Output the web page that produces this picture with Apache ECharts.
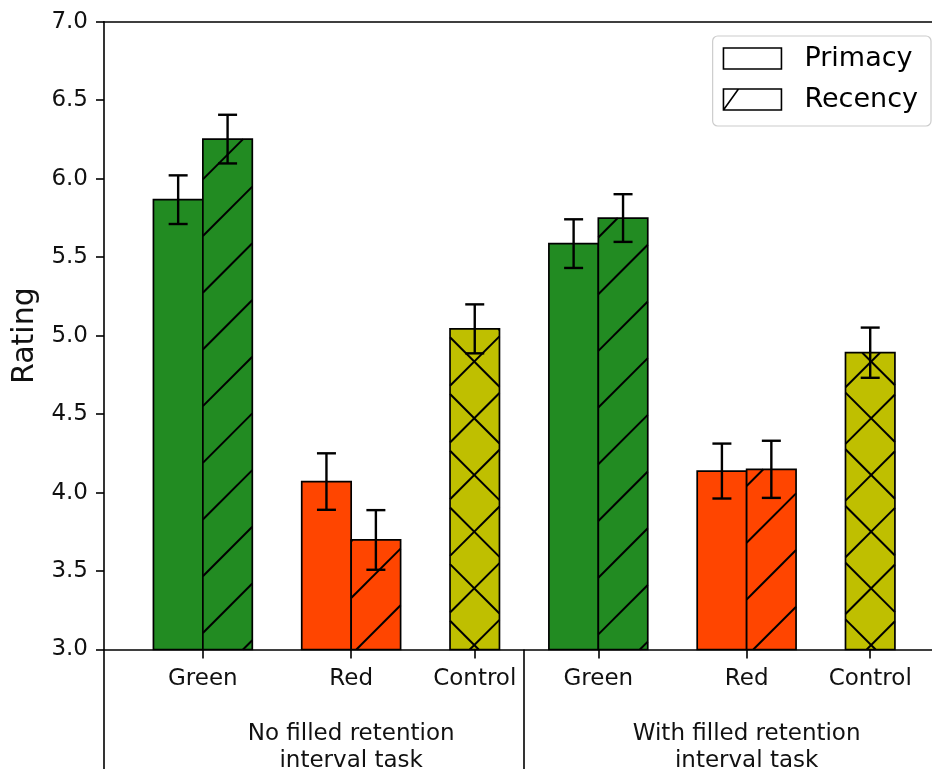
<!DOCTYPE html>
<html>
<head>
<meta charset="utf-8">
<script src="https://cdn.jsdelivr.net/npm/echarts@6/dist/echarts.min.js"></script>
<style>
  html, body { margin: 0; padding: 0; background: #fff; }
  #chart { width: 932px; height: 769px; }
</style>
</head>
<body>
<div id="chart"></div>
<script>
// ---------------- data ----------------
const colorCategories = ['Green', 'Red', 'Control'];
const conditionLabels = ['No filled retention\ninterval task', 'With filled retention\ninterval task'];
const seriesNames = ['Primacy', 'Recency'];

// one value per condition (No filled, With filled)
const greenPrimacy = [5.866, 5.586];
const greenRecency = [6.252, 5.749];
const redPrimacy = [4.070, 4.137];
const redRecency = [3.698, 4.148];
const controlMean = [5.043, 4.891];

const greenPrimacyErr = [0.155, 0.155];
const greenRecencyErr = [0.155, 0.152];
const redPrimacyErr = [0.180, 0.175];
const redRecencyErr = [0.190, 0.182];
const controlErr = [0.156, 0.160];

const yTicks = [3.0, 3.5, 4.0, 4.5, 5.0, 5.5, 6.0, 6.5, 7.0];

// ---------------- layout (x in bar-width units) ----------------
const BAR_W = 1;
const CONDITION_START = [0, 8];
const CATEGORY_OFFSET = [0, 3, 5.5];
const SEPARATORS = [-2, 6.5];
const X_MIN = -2, X_MAX = 14.75;
const Y_MIN = yTicks[0], Y_MAX = yTicks[yTicks.length - 1];

const COLORS = ['#228B22', '#FF4500', '#BFBF00'];
const FONT = 'DejaVu Sans';
const HATCH_P = 56.7;
const HATCH_C1 = 42;   // phase of '/' lines (x + y = c)
const HATCH_C2 = 0.7;  // phase of '\' lines (y - x = d)

// category tick positions and names
const tickPos = [], tickNames = [];
CONDITION_START.forEach(function (s) {
  CATEGORY_OFFSET.forEach(function (o, i) { tickPos.push(s + o); tickNames.push(colorCategories[i]); });
});
const groupPos = CONDITION_START.map(function (s) { return s + CATEGORY_OFFSET[1]; });

// build bar data: [x, value, err, colorIndex]
const primacyData = [], recencyData = [], controlData = [];
for (let c = 0; c < 2; c++) {
  const s = CONDITION_START[c];
  primacyData.push([s + CATEGORY_OFFSET[0] - BAR_W / 2, greenPrimacy[c], greenPrimacyErr[c], 0]);
  primacyData.push([s + CATEGORY_OFFSET[1] - BAR_W / 2, redPrimacy[c], redPrimacyErr[c], 1]);
  recencyData.push([s + CATEGORY_OFFSET[0] + BAR_W / 2, greenRecency[c], greenRecencyErr[c], 0]);
  recencyData.push([s + CATEGORY_OFFSET[1] + BAR_W / 2, redRecency[c], redRecencyErr[c], 1]);
  controlData.push([s + CATEGORY_OFFSET[2], controlMean[c], controlErr[c], 2]);
}
const errorData = primacyData.concat(recencyData, controlData);

function hatchLines(r, fwd, back) {
  const out = [];
  const x0 = r.x, x1 = r.x + r.width, y0 = r.y, y1 = r.y + r.height;
  const st = { stroke: '#000', lineWidth: 2 };
  if (fwd) {
    let c = HATCH_C1 + Math.ceil((x0 + y0 - HATCH_C1) / HATCH_P) * HATCH_P;
    for (; c <= x1 + y1; c += HATCH_P) {
      const xa = Math.max(x0, c - y1), xb = Math.min(x1, c - y0);
      if (xb > xa) out.push({ type: 'line', shape: { x1: xa, y1: c - xa, x2: xb, y2: c - xb }, style: st });
    }
  }
  if (back) {
    let d = HATCH_C2 + Math.ceil((y0 - x1 - HATCH_C2) / HATCH_P) * HATCH_P;
    for (; d <= y1 - x0; d += HATCH_P) {
      const xa = Math.max(x0, y0 - d), xb = Math.min(x1, y1 - d);
      if (xb > xa) out.push({ type: 'line', shape: { x1: xa, y1: xa + d, x2: xb, y2: xb + d }, style: st });
    }
  }
  return out;
}

function barRenderer(fwd, back) {
  return function (params, api) {
    const x = api.value(0), v = api.value(1), ci = api.value(3);
    const tl = api.coord([x - BAR_W / 2, v]);
    const br = api.coord([x + BAR_W / 2, Y_MIN]);
    const r = { x: tl[0], y: tl[1], width: br[0] - tl[0], height: br[1] - tl[1] };
    const children = [{ type: 'rect', shape: r, style: { fill: COLORS[ci] } }]
      .concat(hatchLines(r, fwd, back))
      .concat([{ type: 'rect', shape: r, style: { fill: 'none', stroke: '#000', lineWidth: 1.7 } }]);
    return { type: 'group', children: children };
  };
}

function errorRenderer(params, api) {
  const x = api.value(0), v = api.value(1), e = api.value(2);
  const top = api.coord([x, v + e]);
  const bot = api.coord([x, v - e]);
  const cw = 9.5;
  const st = { stroke: '#000', lineWidth: 2.4 };
  return {
    type: 'group',
    children: [
      { type: 'line', shape: { x1: top[0], y1: top[1], x2: bot[0], y2: bot[1] }, style: st },
      { type: 'line', shape: { x1: top[0] - cw, y1: top[1], x2: top[0] + cw, y2: top[1] }, style: st },
      { type: 'line', shape: { x1: bot[0] - cw, y1: bot[1], x2: bot[0] + cw, y2: bot[1] }, style: st }
    ]
  };
}

const chart = echarts.init(document.getElementById('chart'), null, { renderer: 'canvas' });
const axisBlack = { color: '#000', width: 1.6 };

function lookup(list, names) {
  return function (v) {
    for (let i = 0; i < list.length; i++) if (Math.abs(list[i] - v) < 1e-6) return names[i];
    return '';
  };
}

chart.setOption({
  animation: false,
  backgroundColor: '#fff',
  textStyle: { fontFamily: FONT },
  grid: { left: 104, top: 21.7, right: 0, bottom: 119.5, containLabel: false, outerBoundsMode: 'none' },
  legend: {
    orient: 'vertical',
    right: 1, top: 36,
    backgroundColor: '#fff',
    borderColor: '#cccccc', borderWidth: 1.2, borderRadius: 5,
    padding: [9, 13, 13, 10],
    itemWidth: 58, itemHeight: 21, itemGap: 14,
    textStyle: { fontSize: 27, color: '#000', fontFamily: FONT, lineHeight: 27, padding: [0, 0, 0, 18] },
    data: [
      { name: seriesNames[0], icon: 'path://M0,0H58V21H0Z', itemStyle: { color: '#fff', borderColor: '#000', borderWidth: 1.6 } },
      { name: seriesNames[1], icon: 'path://M0,0H58V21H0Z M0,21L15,0', itemStyle: { color: '#fff', borderColor: '#000', borderWidth: 1.6 } }
    ]
  },
  xAxis: [
    {
      type: 'value', min: X_MIN, max: X_MAX, position: 'bottom',
      axisLine: { show: true, onZero: false, lineStyle: axisBlack },
      axisTick: { show: true, length: 9, inside: false, lineStyle: axisBlack, customValues: tickPos },
      axisLabel: {
        show: true, customValues: tickPos, margin: 16, fontSize: 23, color: '#111', fontFamily: FONT, lineHeight: 27,
        formatter: lookup(tickPos, tickNames)
      },
      splitLine: { show: false }
    },
    {
      type: 'value', min: X_MIN, max: X_MAX, position: 'bottom',
      axisLine: { show: false, onZero: false },
      axisTick: { show: true, length: 130, inside: false, lineStyle: axisBlack, customValues: SEPARATORS },
      axisLabel: {
        show: true, customValues: groupPos, margin: 71, fontSize: 23, color: '#111', fontFamily: FONT, lineHeight: 27,
        align: 'center',
        formatter: lookup(groupPos, conditionLabels)
      },
      splitLine: { show: false }
    },
    {
      type: 'value', min: X_MIN, max: X_MAX, position: 'top',
      axisLine: { show: true, onZero: false, lineStyle: axisBlack },
      axisTick: { show: false },
      axisLabel: { show: false },
      splitLine: { show: false }
    }
  ],
  yAxis: {
    type: 'value', min: Y_MIN, max: Y_MAX, interval: 0.5,
    name: 'Rating', nameLocation: 'middle', nameGap: 60, nameRotate: 90,
    nameTextStyle: { fontSize: 30, color: '#111', fontFamily: FONT },
    axisLine: { show: true, onZero: false, lineStyle: axisBlack },
    axisTick: { show: true, length: 8, inside: false, lineStyle: axisBlack },
    axisLabel: { fontSize: 23, color: '#111', fontFamily: FONT, margin: 16, formatter: function (v) { return v.toFixed(1); } },
    splitLine: { show: false }
  },
  series: [
    { type: 'custom', name: seriesNames[0], xAxisIndex: 0, data: primacyData, renderItem: barRenderer(false, false), z: 2 },
    { type: 'custom', name: seriesNames[1], xAxisIndex: 0, data: recencyData, renderItem: barRenderer(true, false), z: 2 },
    { type: 'custom', name: 'Control', xAxisIndex: 0, data: controlData, renderItem: barRenderer(true, true), z: 2 },
    { type: 'custom', name: 'Error', xAxisIndex: 0, data: errorData, renderItem: errorRenderer, z: 5 }
  ]
});
</script>
</body>
</html>
